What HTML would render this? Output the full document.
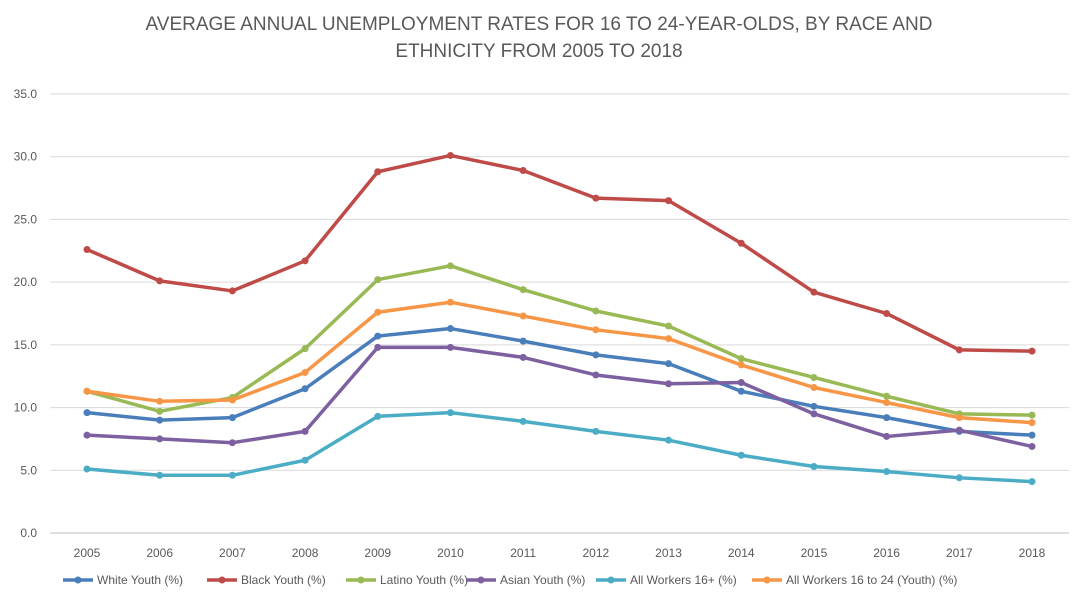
<!DOCTYPE html>
<html><head><meta charset="utf-8"><style>
body{margin:0;background:#fff;font-family:"Liberation Sans",sans-serif;}
svg text{font-family:"Liberation Sans",sans-serif;}
</style></head><body>
<svg id="chart" width="1079" height="604">
<text x="539" y="30" text-anchor="middle" font-size="19" fill="#595959">AVERAGE ANNUAL UNEMPLOYMENT RATES FOR 16 TO 24-YEAR-OLDS, BY RACE AND</text>
<text x="539" y="57" text-anchor="middle" font-size="19" fill="#595959">ETHNICITY FROM 2005 TO 2018</text>
<g id="grid"></g><g id="series"></g><g id="legend"></g>
</svg>
<script>
const years=["2005","2006","2007","2008","2009","2010","2011","2012","2013","2014","2015","2016","2017","2018"];
const yTicks=[0,5,10,15,20,25,30,35];
const white=[9.6,9.0,9.2,11.5,15.7,16.3,15.3,14.2,13.5,11.3,10.1,9.2,8.1,7.8];
const black=[22.6,20.1,19.3,21.7,28.8,30.1,28.9,26.7,26.5,23.1,19.2,17.5,14.6,14.5];
const latino=[11.3,9.7,10.8,14.7,20.2,21.3,19.4,17.7,16.5,13.9,12.4,10.9,9.5,9.4];
const asian=[7.8,7.5,7.2,8.1,14.8,14.8,14.0,12.6,11.9,12.0,9.5,7.7,8.2,6.9];
const all16=[5.1,4.6,4.6,5.8,9.3,9.6,8.9,8.1,7.4,6.2,5.3,4.9,4.4,4.1];
const youth=[11.3,10.5,10.6,12.8,17.6,18.4,17.3,16.2,15.5,13.4,11.6,10.4,9.2,8.8];
const seriesNames=["White Youth (%)","Black Youth (%)","Latino Youth (%)","Asian Youth (%)","All Workers 16+ (%)","All Workers 16 to 24 (Youth) (%)"];
const seriesData=[white,black,latino,asian,all16,youth];
const colors=["#4A7EBB","#BE4B48","#98B954","#7D60A0","#4BACC6","#F79646"];
const NS="http://www.w3.org/2000/svg";
const x=i=>87+i*(1032-87)/(years.length-1);
const y=v=>533-v*(533-94)/35;
function mk(tag,attrs,parent){const e=document.createElementNS(NS,tag);for(const k in attrs)e.setAttribute(k,attrs[k]);parent.appendChild(e);return e;}
const grid=document.getElementById('grid');
yTicks.forEach(t=>{
 const l=mk('line',{x1:50,x2:1069,y1:y(t),y2:y(t),stroke:t===0?'#bfbfbf':'#d9d9d9','stroke-width':1},grid);
 
 
 const tx=mk('text',{x:37,y:y(t)+4,'text-anchor':'end','font-size':12,fill:'#595959'},grid);
 tx.textContent=t.toFixed(1);
 
 
});
years.forEach((yr,i)=>{
 const tx=mk('text',{x:x(i),y:557,'text-anchor':'middle','font-size':12,fill:'#595959'},grid);
 tx.textContent=yr;
 
 
});
const sg=document.getElementById('series');
seriesData.forEach((d,s)=>{
 const p=mk('polyline',{points:d.map((v,i)=>x(i)+','+y(v)).join(' '),fill:'none',stroke:colors[s],'stroke-width':3.5,'stroke-linejoin':'round'},sg);
 
 
 d.forEach((v,i)=>{
  const c=mk('circle',{cx:x(i),cy:y(v),r:3.5,fill:colors[s]},sg);
  
  
 });
});
const lg=document.getElementById('legend');
const lx=[63,207,346,466,596,752];
seriesNames.forEach((n,s)=>{
 const g=mk('g',{},lg);
 
 
 mk('line',{x1:lx[s],x2:lx[s]+30,y1:580,y2:580,stroke:colors[s],'stroke-width':3.5},g);
 mk('circle',{cx:lx[s]+15,cy:580,r:3.5,fill:colors[s]},g);
 const t=mk('text',{x:lx[s]+34,y:584,'font-size':12,fill:'#595959'},g);
 t.textContent=n;
});
</script>
</body></html>
